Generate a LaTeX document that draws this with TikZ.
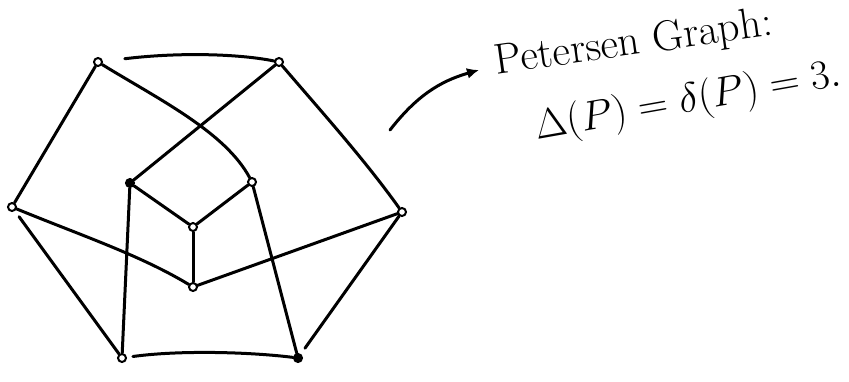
\documentclass[tikz,border=0pt]{standalone}
\usepackage{graphicx}
\usetikzlibrary{arrows.meta}
\begin{document}
\begin{tikzpicture}[x=1pt,y=-1pt,
  edge/.style={line width=3pt,line cap=round,line join=round},
  vtx/.style={circle,draw,line width=2pt,fill=white,inner sep=0pt,minimum size=8pt},
  vtxf/.style={vtx,fill=black},
  hand/.style={inner sep=0pt,font=\fontsize{20}{22}\selectfont}]
\useasboundingbox (0,0) rectangle (849,381);
% vertices
\node[vtx] (A) at (98,62) {};
\node[vtx] (B) at (279,62) {};
\node[vtx] (C) at (12,207) {};
\node[vtx] (D) at (402,212) {};
\node[vtx] (E) at (122,358) {};
\node[vtxf] (F) at (298,358) {};
\node[vtxf] (G) at (130,183) {};
\node[vtx] (H) at (252,182) {};
\node[vtx] (I) at (193,227) {};
\node[vtx] (J) at (193,287) {};
% outer cycle
\draw[edge,shorten <=22pt] (A) .. controls (180,52) and (240,54) .. (B);
\draw[edge] (A) -- (C);
\draw[edge] (B) .. controls (320,110) and (365,160) .. (D);
\draw[edge,shorten <=7pt] (C) -- (E);
\draw[edge,shorten >=7pt] (D) -- (F);
\draw[edge,shorten <=6pt] (E) .. controls (180,350) and (250,352) .. (F);
% spokes and inner
\draw[edge] (A) .. controls (160,100) and (225,132) .. (H);
\draw[edge] (B) -- (G);
\draw[edge] (C) .. controls (80,235) and (140,255) .. (J);
\draw[edge] (D) -- (J);
\draw[edge] (G) -- (E);
\draw[edge] (H) -- (F);
\draw[edge] (G) -- (I);
\draw[edge] (H) -- (I);
\draw[edge] (I) -- (J);
% arrow
\coordinate (as) at (390,130);
\coordinate (ae) at (479,70);
\draw[edge,-{Latex[length=12pt,width=11pt]}] (as) to[bend left=18] (ae);
% text
\node[hand,rotate=8] (t1) at (634,44) {\scalebox{2.15}{Petersen Graph:}};
\node[hand,rotate=10] (t2) at (688,102) {\scalebox{2}{$\Delta(P)=\delta(P)=3.$}};
\end{tikzpicture}
\end{document}
